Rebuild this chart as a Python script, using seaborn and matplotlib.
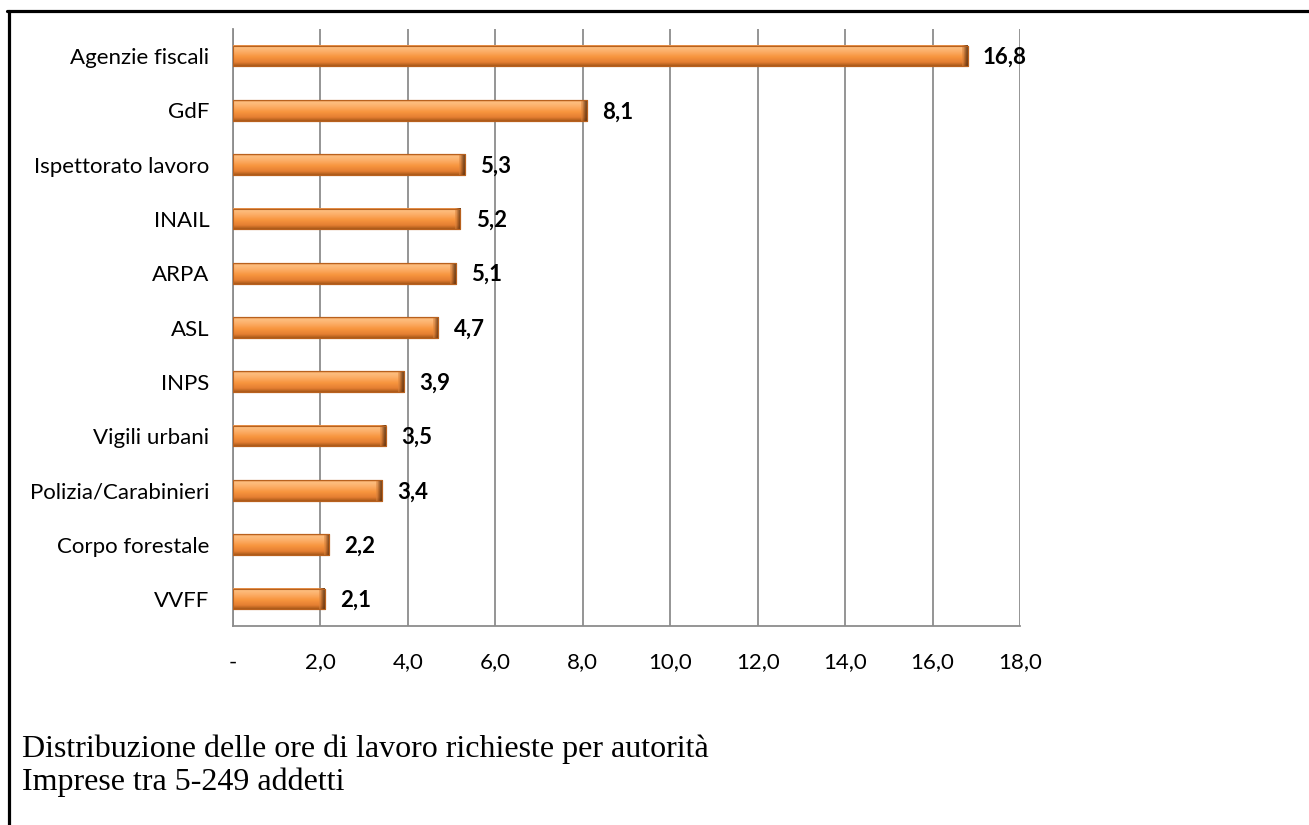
import numpy as np
import pandas as pd
import matplotlib
matplotlib.use("Agg")
import matplotlib.pyplot as plt
from matplotlib.lines import Line2D
from matplotlib.colors import to_rgba
import seaborn as sns

categories = ["Agenzie fiscali", "GdF", "Ispettorato lavoro", "INAIL", "ARPA", "ASL",
              "INPS", "Vigili urbani", "Polizia/Carabinieri", "Corpo forestale", "VVFF"]
values = [16.8, 8.1, 5.3, 5.2, 5.1, 4.7, 3.9, 3.5, 3.4, 2.2, 2.1]
xticks = [0, 2, 4, 6, 8, 10, 12, 14, 16, 18]
xticklabels = ["-", "2,0", "4,0", "6,0", "8,0", "10,0", "12,0", "14,0", "16,0", "18,0"]
caption = ["Distribuzione delle ore di lavoro richieste per autorità",
           "Imprese tra 5-249 addetti"]

sns.set_theme(style="white")
plt.rcParams["font.family"] = ["Lato", "DejaVu Sans"]

df = pd.DataFrame({"cat": categories, "val": values})

fig = plt.figure(figsize=(13.09, 8.25), dpi=100)
ax = fig.add_axes([233/1309, 1-626/825, (1020-233)/1309, (626-29)/825])

sns.barplot(data=df, x="val", y="cat", orient="h", color="#F79646",
            width=0.38, ax=ax, edgecolor="#B8611E", linewidth=0.8, zorder=3)

# gradient / bevel styling on each bar
grad_cols = [(0.0, "#E0863E"), (0.1, "#FDBF80"), (0.3, "#FCAE68"),
             (0.55, "#F8963F"), (0.82, "#E57F32"), (1.0, "#A85819")]
n = 64
pos = np.linspace(0, 1, n)
rgb = []
for p in pos:
    for i in range(len(grad_cols)-1):
        a, ca = grad_cols[i]; b, cb = grad_cols[i+1]
        if a <= p <= b:
            t = (p - a) / (b - a)
            c = np.array(to_rgba(ca))*(1-t) + np.array(to_rgba(cb))*t
            rgb.append(c); break
img = np.array(rgb).reshape(n, 1, 4)
cap_cols = np.array([to_rgba("#D8823C"), to_rgba("#8E4C1C"), to_rgba("#5E3210")])
cap = np.zeros((n, 3, 4))
for j in range(3):
    cap[:, j, :] = img[:, 0, :] * (0.5 - 0.15*j) + cap_cols[j]*(0.5 + 0.15*j)
    cap[:, j, 3] = 1
for patch in list(ax.patches):
    x0, y0 = patch.get_x(), patch.get_y()
    w, h = patch.get_width(), patch.get_height()
    ax.imshow(img, extent=(x0, x0 + w, y0 + h, y0), origin="upper",
              aspect="auto", zorder=3.5, interpolation="bilinear")
    ax.imshow(cap, extent=(x0 + w - 0.13, x0 + w, y0 + h, y0), origin="upper",
              aspect="auto", zorder=3.6, interpolation="bilinear")
    ax.add_patch(plt.Rectangle((x0, y0), w, h, fill=False, edgecolor="#B8611E",
                               linewidth=0.8, zorder=3.7))

for i, v in enumerate(values):
    ax.annotate(f"{v:.1f}".replace(".", ","), xy=(v, i), xytext=(11, -1),
                textcoords="offset points", va="center", ha="left",
                fontsize=16, fontweight="bold", color="#000000", zorder=5)

ax.set_xlim(0, 18)
ax.set_ylim(len(categories) - 0.5, -0.5)
ax.set_xticks(xticks)
ax.set_xticklabels(xticklabels, fontsize=16, color="#000000")
ax.set_yticks(range(len(categories)))
ax.set_yticklabels(categories, fontsize=16, color="#000000")
ax.set_yticks(np.arange(-0.5, len(categories)), minor=True)
ax.set_xlabel("")
ax.set_ylabel("")

ax.grid(axis="x", color="#8C8C8C", linewidth=1.3, zorder=0)
ax.set_axisbelow(True)
for s in ["top", "right"]:
    ax.spines[s].set_visible(False)
for s in ["left", "bottom"]:
    ax.spines[s].set_color("#8C8C8C")
    ax.spines[s].set_linewidth(1.3)

ax.tick_params(axis="y", which="major", length=0, pad=17)
ax.tick_params(axis="y", which="minor", length=7, width=1.3, color="#8C8C8C", direction="out")
ax.tick_params(axis="x", which="major", length=7, width=1.3, color="#8C8C8C",
               direction="out", pad=12)

for i, line in enumerate(caption):
    fig.text(22/1309, 1 - (757 + 33*i)/825, line, family="Liberation Serif",
             fontsize=23, va="baseline", ha="left", color="#000000")

fig.add_artist(Line2D([7/1309, 1], [1-11/825, 1-11/825], color="black", linewidth=2.3,
                      transform=fig.transFigure))
fig.add_artist(Line2D([8.5/1309, 8.5/1309], [0, 1-11/825], color="black", linewidth=2.3,
                      transform=fig.transFigure))

fig.savefig("out.png", dpi=100, facecolor="white")
